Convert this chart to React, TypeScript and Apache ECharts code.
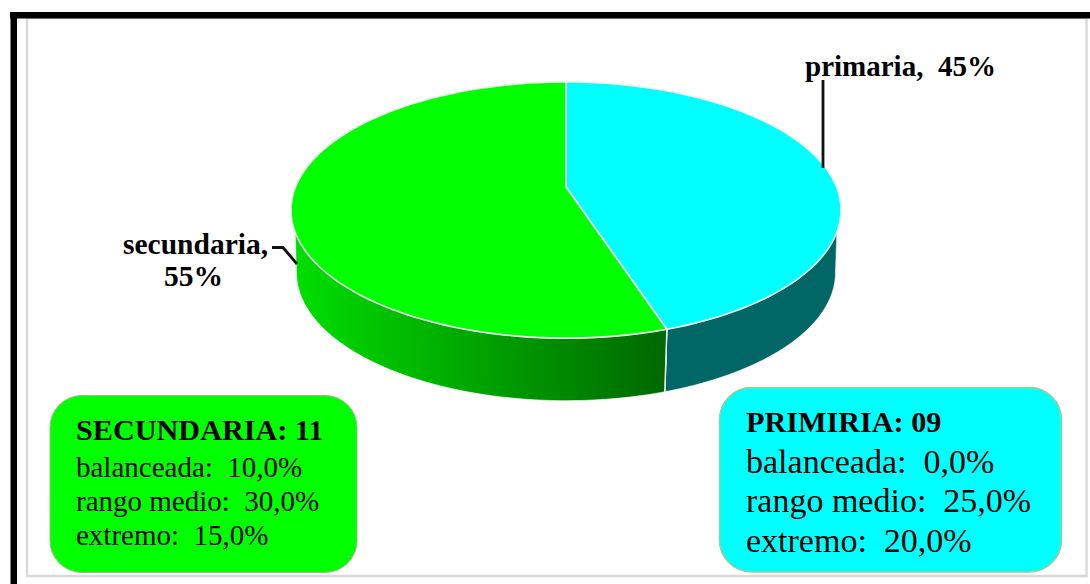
import React, { useEffect, useRef } from "react";
import * as echarts from "echarts";

const categories = ["primaria", "secundaria"];
const shares = [45, 55];
const topColors = ["#00ffff", "#00ff00"];

const secundariaTitle = "SECUNDARIA: 11";
const secundariaLines = ["balanceada:  10,0%", "rango medio:  30,0%", "extremo:  15,0%"];
const primariaTitle = "PRIMIRIA: 09";
const primariaLines = ["balanceada:  0,0%", "rango medio:  25,0%", "extremo:  20,0%"];

const SERIF = '"Liberation Serif", "Times New Roman", serif';

// projective view of the pie disc
const CX = 566, W = 270.5, K = -0.18, Y0 = 187, B = 90.3;
const DEPTH = 62.5, BOTTOM_SCALE = 0.98;
const FRONT_TOP = 110, FRONT_BOTTOM = 100.4;

function project(deg: number, bottom = false): number[] {
  const t = (deg * Math.PI) / 180;
  const x = Math.sin(t), y = -Math.cos(t);
  const d = 1 + K * y;
  const X = (W * x) / d, Y = (Y0 + B * y) / d;
  return bottom ? [CX + X * BOTTOM_SCALE, Y + DEPTH] : [CX + X, Y];
}

function arc(a: number, b: number, bottom = false): number[][] {
  const n = Math.max(2, Math.ceil(Math.abs(b - a) / 1.5));
  const out: number[][] = [];
  for (let i = 0; i <= n; i++) out.push(project(a + ((b - a) * i) / n, bottom));
  return out;
}

const clamp = (v: number, lo: number, hi: number) => Math.min(hi, Math.max(lo, v));

function sideFill(index: number): any {
  if (index === 0) return "#006666";
  return new echarts.graphic.LinearGradient(0, 0, 1, 0, [
    { offset: 0, color: "#00de00" },
    { offset: 1, color: "#006800" },
  ]);
}

function renderSlice(params: any, api: any): any {
  const i = params.dataIndex;
  const total = shares.reduce((s, v) => s + v, 0);
  const before = shares.slice(0, i).reduce((s, v) => s + v, 0);
  const a0 = (before / total) * 360;
  const a1 = a0 + (api.value(0) / total) * 360;
  const children: any[] = [];
  const t0 = clamp(a0, FRONT_TOP, 360 - FRONT_TOP), t1 = clamp(a1, FRONT_TOP, 360 - FRONT_TOP);
  const b0 = clamp(a0, FRONT_BOTTOM, 360 - FRONT_BOTTOM), b1 = clamp(a1, FRONT_BOTTOM, 360 - FRONT_BOTTOM);
  if (t1 > t0) {
    children.push({
      type: "polygon",
      shape: { points: [...arc(t0, t1), ...arc(b1, b0, true)] },
      style: { fill: sideFill(i), stroke: "#ffffff", lineWidth: 0.6 },
    });
    const seam = a0 >= FRONT_TOP && a0 <= 360 - FRONT_TOP ? a0 : a1;
    children.push({
      type: "line",
      shape: {
        x1: project(seam)[0], y1: project(seam)[1],
        x2: project(seam, true)[0], y2: project(seam, true)[1],
      },
      style: { stroke: "#e8f0e8", lineWidth: 1.4 },
    });
  }
  children.push({
    type: "polygon",
    shape: { points: [[CX, Y0], ...arc(a0, a1)] },
    style: { fill: topColors[i], stroke: "#eef6ee", lineWidth: 1.6, lineJoin: "round" },
  });
  return { type: "group", children };
}

const text = (x: number, y: number, t: string, size: number, bold = false, align = "left"): any => ({
  type: "text",
  x,
  y,
  z: 20,
  silent: true,
  style: {
    text: t,
    fill: "#000000",
    font: `${bold ? "bold " : ""}${size}px ${SERIF}`,
    textAlign: align,
    textVerticalAlign: "middle",
  },
});

const rect = (x: number, y: number, w: number, h: number, fill: string, z: number, stroke = "none", r = 0, lw = 0): any => ({
  type: "rect",
  z,
  silent: true,
  shape: { x, y, width: w, height: h, r },
  style: { fill, stroke, lineWidth: lw },
});

const leader = (points: number[][]): any => ({
  type: "polyline",
  z: 20,
  silent: true,
  shape: { points },
  style: { stroke: "#111111", lineWidth: 2.8, fill: "none" },
});

export default function App() {
  const ref = useRef<HTMLDivElement>(null);
  useEffect(() => {
    if (!ref.current) return;
    const chart = echarts.init(ref.current, undefined, { renderer: "svg" });
    chart.setOption({
      animation: false,
      backgroundColor: "#ffffff",
      series: [
        {
          type: "custom",
          coordinateSystem: "none",
          name: "nivel",
          data: categories.map((name, i) => ({ name, value: [shares[i]] })),
          renderItem: renderSlice,
          silent: true,
          z: 3,
        },
      ],
      graphic: [
        rect(27, 18, 1059.5, 558, "#ffffff", 1, "#d9d9d9", 0, 2.4),
        rect(10, 12, 1080, 6.5, "#000000", 2),
        rect(10.5, 12, 6.5, 572, "#000000", 2),
        leader([[823, 80], [823, 168]]),
        leader([[272, 247.5], [283, 247.5], [297, 264]]),
        text(805, 66, `${categories[0]},  ${shares[0]}%`, 29, true),
        text(123, 243.5, `${categories[1]},`, 29.5, true),
        text(193.5, 275.5, `${shares[1]}%`, 29.5, true, "center"),
        rect(50, 395.5, 307, 177, "#00ff00", 15, "#9dbb80", 32, 1),
        text(76, 430, secundariaTitle, 30.2, true),
        ...secundariaLines.map((t, i) => text(76, 467 + i * 34, t, 29)),
        rect(719.5, 387.5, 342, 184.5, "#00ffff", 15, "#a5c98e", 32, 1.4),
        text(746, 422, primariaTitle, 30.2, true),
        ...primariaLines.map((t, i) => text(746, 461 + i * 39.5, t, 34)),
      ],
    });
    return () => chart.dispose();
  }, []);
  return <div ref={ref} style={{ position: "absolute", left: 0, top: 0, width: 1090, height: 584 }} />;
}
